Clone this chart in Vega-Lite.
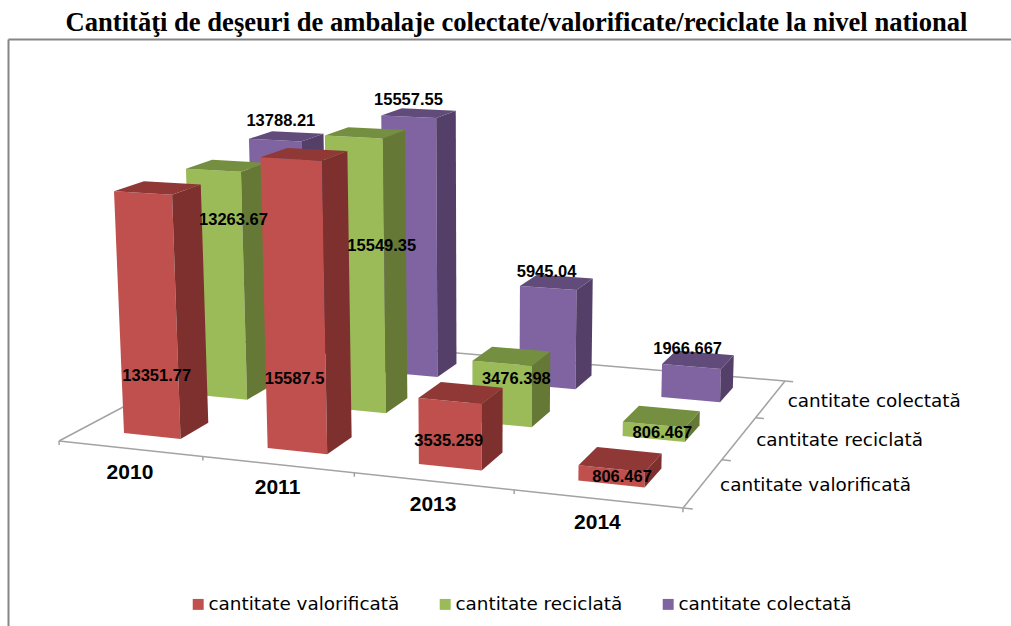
{
"$schema":"https://vega.github.io/schema/vega-lite/v6.json",
"width":1003,"height":587,
"padding":{"left":8,"top":39,"right":0,"bottom":0},
"autosize":{"type":"none"},
"background":"white",
"title":{"text":"Cantităţi de deşeuri de ambalaje colectate/valorificate/reciclate la nivel national","font":"Liberation Serif","fontWeight":"bold","fontSize":26.6,"color":"#000000","anchor":"middle","frame":"group","dx":7,"offset":2},
"config":{"view":{"stroke":null}},
"datasets":{
"barele":[
{"an":"2010","serie":"cantitate colectată","valoare":13788.21},
{"an":"2011","serie":"cantitate colectată","valoare":15557.55},
{"an":"2013","serie":"cantitate colectată","valoare":5945.04},
{"an":"2014","serie":"cantitate colectată","valoare":1966.667},
{"an":"2010","serie":"cantitate reciclată","valoare":13263.67},
{"an":"2011","serie":"cantitate reciclată","valoare":15549.35},
{"an":"2013","serie":"cantitate reciclată","valoare":3476.398},
{"an":"2014","serie":"cantitate reciclată","valoare":806.467},
{"an":"2010","serie":"cantitate valorificată","valoare":13351.77},
{"an":"2011","serie":"cantitate valorificată","valoare":15587.5},
{"an":"2013","serie":"cantitate valorificată","valoare":3535.259},
{"an":"2014","serie":"cantitate valorificată","valoare":806.467}
],
"reper":[
{"linie":"spate","k":0},{"linie":"stanga","k":0},{"linie":"fata","k":0},{"linie":"dreapta","k":0},
{"linie":"ani","k":0},{"linie":"ani","k":1},{"linie":"ani","k":2},{"linie":"ani","k":3},{"linie":"ani","k":4},
{"linie":"serii","k":0},{"linie":"serii","k":1},{"linie":"serii","k":2},{"linie":"serii","k":3}
],
"ani":[{"an":"2010"},{"an":"2011"},{"an":"2013"},{"an":"2014"}],
"serii":[{"serie":"cantitate valorificată"},{"serie":"cantitate reciclată"},{"serie":"cantitate colectată"}]
},
"encoding":{
"x":{"field":"px","type":"quantitative","scale":{"domain":[8,1011],"nice":false,"zero":false},"axis":{"orient":"top","title":null,"labels":false,"ticks":false,"grid":false,"domain":true,"domainColor":"#868686","domainWidth":2}},
"y":{"field":"py","type":"quantitative","scale":{"domain":[626,39],"nice":false,"zero":false},"axis":{"orient":"left","title":null,"labels":false,"ticks":false,"grid":false,"domain":true,"domainColor":"#868686","domainWidth":2}}
},
"layer":[
{
"data":{"name":"reper"},
"transform":[
{"calculate":"[0,1]","as":"t"},
{"flatten":["t"]},
{"calculate":"datum.linie+datum.k","as":"id"},
{"calculate":"datum.linie=='fata'||datum.linie=='spate'?datum.t:datum.linie=='stanga'?0:datum.linie=='dreapta'?1:datum.linie=='ani'?datum.k/4:1+0.014*datum.t","as":"uu"},
{"calculate":"datum.linie=='fata'||datum.linie=='ani'?0:datum.linie=='spate'?1:datum.linie=='serii'?datum.k/3:datum.t","as":"vv"},
{"calculate":"datum.linie=='ani'?-220*datum.t:0","as":"zz"},
{"calculate":"1-0.1018*datum.uu+0.2015*datum.vv-0.00000207*datum.zz","as":"ww"},
{"calculate":"(554.5*datum.uu+249.8*datum.vv+59-0.0009936*datum.zz)/datum.ww","as":"px"},
{"calculate":"(15.3*datum.uu-37.3*datum.vv+441-0.018735*datum.zz)/datum.ww","as":"py"}
],
"mark":{"type":"line","stroke":"#A3A3A3","strokeWidth":1.5},
"encoding":{"detail":{"field":"id"},"order":{"field":"t"}}
},
{
"data":{"name":"barele"},
"transform":[
{"calculate":"indexof(['2010','2011','2013','2014'],datum.an)","as":"i"},
{"calculate":"indexof(['cantitate valorificată','cantitate reciclată','cantitate colectată'],datum.serie)","as":"j"},
{"calculate":"['fata','lateral','sus']","as":"fata"},
{"flatten":["fata"]},
{"calculate":"[0,1,2,3]","as":"n"},
{"flatten":["n"]},
{"calculate":"datum.serie+' '+datum.an+' '+datum.fata","as":"id"},
{"calculate":"datum.fata=='fata'?datum.serie:datum.serie+' · '+datum.fata","as":"nuanta"},
{"calculate":"(datum.i+0.5)/4+0.05*{'fata':[-1,1,1,-1],'lateral':[1,1,1,1],'sus':[-1,1,1,-1]}[datum.fata][datum.n]","as":"uu"},
{"calculate":"(datum.j+0.5)/3+0.0667*{'fata':[-1,-1,-1,-1],'lateral':[-1,1,1,-1],'sus':[-1,-1,1,1]}[datum.fata][datum.n]","as":"vv"},
{"calculate":"datum.valoare*{'fata':[0,0,1,1],'lateral':[0,0,1,1],'sus':[1,1,1,1]}[datum.fata][datum.n]","as":"zz"},
{"calculate":"1-0.1018*datum.uu+0.2015*datum.vv-0.00000207*datum.zz","as":"ww"},
{"calculate":"(554.5*datum.uu+249.8*datum.vv+59-0.0009936*datum.zz)/datum.ww","as":"px"},
{"calculate":"(15.3*datum.uu-37.3*datum.vv+441-0.018735*datum.zz)/datum.ww","as":"py"}
],
"mark":{"type":"line","filled":true,"interpolate":"linear-closed","strokeWidth":0},
"encoding":{
"detail":{"field":"id"},
"order":{"field":"n"},
"color":{"field":"nuanta","type":"nominal","scale":{
"domain":["cantitate valorificată","cantitate reciclată","cantitate colectată","cantitate valorificată · lateral","cantitate reciclată · lateral","cantitate colectată · lateral","cantitate valorificată · sus","cantitate reciclată · sus","cantitate colectată · sus"],
"range":["#C0504D","#9BBB59","#8064A2","#7E302E","#657836","#533F68","#8F3836","#758F40","#604B7A"]},
"legend":{"values":["cantitate valorificată","cantitate reciclată","cantitate colectată"],"title":null,"orient":"none","legendX":181,"legendY":556,"direction":"horizontal","columns":3,"columnPadding":36,"symbolType":"square","symbolSize":120,"symbolStrokeWidth":0,"labelFont":"DejaVu Sans","labelFontSize":18.4,"labelColor":"#000000","labelOffset":1,"labelLimit":300}}
}
},
{
"data":{"name":"barele"},
"transform":[
{"calculate":"indexof(['2010','2011','2013','2014'],datum.an)","as":"i"},
{"calculate":"indexof(['cantitate valorificată','cantitate reciclată','cantitate colectată'],datum.serie)","as":"j"},
{"calculate":"{'2010':[[0.2526,0.012],[0.79,0.034],[1.085,0.012]],'2011':[[0.253,-0.002],[0.615,0.046],[1.064,0]],'2013':[[0.397,-0.002],[0.761,0.024],[1.155,-0.003]],'2014':[[0.518,0.016],[0.486,0.014],[1.5,-0.007]]}[datum.an][datum.j]","as":"loc"},
{"calculate":"(datum.i+0.5)/4+datum.loc[1]","as":"uu"},
{"calculate":"(datum.j+0.5)/3-0.0667","as":"vv"},
{"calculate":"datum.valoare*datum.loc[0]","as":"zz"},
{"calculate":"1-0.1018*datum.uu+0.2015*datum.vv-0.00000207*datum.zz","as":"ww"},
{"calculate":"(554.5*datum.uu+249.8*datum.vv+59-0.0009936*datum.zz)/datum.ww","as":"px"},
{"calculate":"(15.3*datum.uu-37.3*datum.vv+441-0.018735*datum.zz)/datum.ww","as":"py"}
],
"mark":{"type":"text","font":"Liberation Sans","fontWeight":"bold","fontSize":16.5,"color":"#000000","align":"center","baseline":"middle"},
"encoding":{"text":{"field":"valoare","type":"quantitative","format":"~f"}}
},
{
"data":{"name":"ani"},
"transform":[
{"calculate":"(indexof(['2010','2011','2013','2014'],datum.an)+0.5)/4","as":"uu"},
{"calculate":"1-0.1018*datum.uu","as":"ww"},
{"calculate":"(554.5*datum.uu+59)/datum.ww","as":"px"},
{"calculate":"(15.3*datum.uu+441)/datum.ww","as":"py"}
],
"mark":{"type":"text","font":"Liberation Sans","fontWeight":"bold","fontSize":21,"color":"#000000","align":"center","baseline":"middle","dy":24},
"encoding":{"text":{"field":"an"}}
},
{
"data":{"name":"serii"},
"transform":[
{"calculate":"(indexof(['cantitate valorificată','cantitate reciclată','cantitate colectată'],datum.serie)+0.5)/3","as":"vv"},
{"calculate":"1-0.1018+0.2015*datum.vv","as":"ww"},
{"calculate":"(554.5+249.8*datum.vv+59)/datum.ww","as":"px"},
{"calculate":"(15.3-37.3*datum.vv+441)/datum.ww","as":"py"}
],
"mark":{"type":"text","font":"DejaVu Sans","fontSize":18.4,"color":"#000000","align":"left","baseline":"middle","dx":17,"dy":2},
"encoding":{"text":{"field":"serie"}}
}
]
}
